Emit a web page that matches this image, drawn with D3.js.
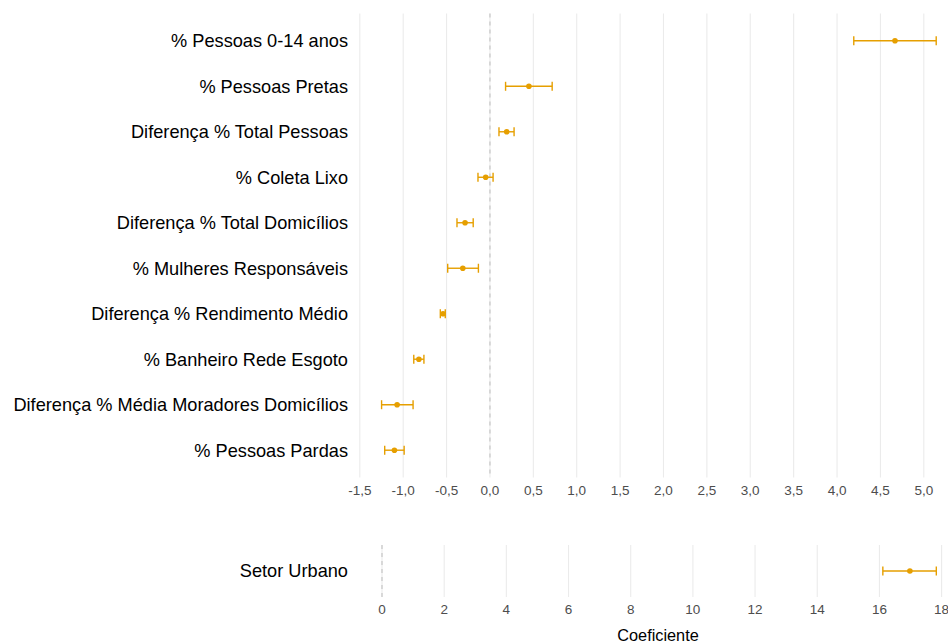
<!DOCTYPE html>
<html>
<head>
<meta charset="utf-8">
<script src="https://cdn.jsdelivr.net/npm/d3@7"></script>
<style>
  body { margin: 0; background: #fff; }
  text { font-family: "Liberation Sans", Arial, Helvetica, sans-serif; }
</style>
</head>
<body>
<div id="chart"></div>
<script>
/* Coefficient plot: two panels, same orange error bars */

const width = 948,
    height = 643;

// top panel data
const labels = ["% Pessoas 0-14 anos", "% Pessoas Pretas", "Diferença % Total Pessoas", "% Coleta Lixo",
  "Diferença % Total Domicílios", "% Mulheres Responsáveis", "Diferença % Rendimento Médio",
  "% Banheiro Rede Esgoto", "Diferença % Média Moradores Domicílios", "% Pessoas Pardas"];
const estimate = [4.668, 0.449, 0.193, -0.049, -0.287, -0.313, -0.541, -0.819, -1.070, -1.101];
const lower    = [4.193, 0.180, 0.104, -0.138, -0.380, -0.487, -0.572, -0.878, -1.249, -1.213];
const upper    = [5.143, 0.717, 0.278,  0.036, -0.193, -0.133, -0.515, -0.761, -0.886, -0.989];
const topTicks = [-1.5, -1, -0.5, 0, 0.5, 1, 1.5, 2, 2.5, 3, 3.5, 4, 4.5, 5];

// bottom panel data
const labels2 = ["Setor Urbano"];
const estimate2 = [16.98];
const lower2 = [16.11];
const upper2 = [17.83];
const bottomTicks = [0, 2, 4, 6, 8, 10, 12, 14, 16, 18];

const orange = "#E69F00";

const svg = d3.select("#chart")
    .append("svg")
    .attr("width", width)
    .attr("height", height);

const fmt = d3.formatLocale({decimal: ",", thousands: ".", grouping: [3], currency: ["", ""], minus: "-"});

function panel(opts) {
  const rows = opts.labels.map((d, i) => ({label: d, est: opts.est[i], lo: opts.lo[i], hi: opts.hi[i]}));

  let x = d3.scaleLinear()
      .domain(opts.xDomain)
      .range(opts.xRange);

  let y = d3.scalePoint()
      .domain(opts.labels)
      .range([opts.top, opts.bottom])
      .padding(0.6);

  const g = svg.append("g");

  // vertical grid
  g.selectAll(".grid")
    .data(opts.ticks)
    .join("line")
      .attr("x1", d => x(d))
      .attr("x2", d => x(d))
      .attr("y1", opts.top)
      .attr("y2", opts.bottom)
      .attr("stroke", "#ebebeb")
      .attr("stroke-width", 1.1);

  // reference line at zero
  g.append("line")
      .attr("x1", x(0))
      .attr("x2", x(0))
      .attr("y1", opts.top)
      .attr("y2", opts.bottom)
      .attr("stroke", "#bdbdbd")
      .attr("stroke-width", 1)
      .attr("stroke-dasharray", "4,4");

  // x tick labels
  g.selectAll(".tick-label")
    .data(opts.ticks)
    .join("text")
      .attr("x", d => x(d))
      .attr("y", opts.bottom + 17)
      .attr("text-anchor", "middle")
      .attr("fill", "#4d4d4d")
      .attr("font-size", 13.5)
      .text(opts.format);

  // y labels
  g.selectAll(".y-label")
    .data(rows)
    .join("text")
      .attr("x", 348)
      .attr("y", d => y(d.label))
      .attr("dy", "0.35em")
      .attr("text-anchor", "end")
      .attr("fill", "#000")
      .attr("font-size", 18.2)
      .text(d => d.label);

  // error bars
  const bars = g.selectAll(".bar")
    .data(rows)
    .join("g")
      .attr("stroke", orange)
      .attr("stroke-width", 1.4);

  bars.append("line")
      .attr("x1", d => x(d.lo))
      .attr("x2", d => x(d.hi))
      .attr("y1", d => y(d.label))
      .attr("y2", d => y(d.label));

  bars.append("line")
      .attr("x1", d => x(d.lo))
      .attr("x2", d => x(d.lo))
      .attr("y1", d => y(d.label) - 4.5)
      .attr("y2", d => y(d.label) + 4.5);

  bars.append("line")
      .attr("x1", d => x(d.hi))
      .attr("x2", d => x(d.hi))
      .attr("y1", d => y(d.label) - 4.5)
      .attr("y2", d => y(d.label) + 4.5);

  g.selectAll(".dot")
    .data(rows)
    .join("circle")
      .attr("cx", d => x(d.est))
      .attr("cy", d => y(d.label))
      .attr("r", 2.8)
      .attr("fill", orange);
}

panel({
  labels: labels, est: estimate, lo: lower, hi: upper,
  ticks: topTicks,
  xDomain: [-1.5, 5], xRange: [359.8, 923.8],
  top: 13.5, bottom: 477.5,
  format: fmt.format(".1f")
});

panel({
  labels: labels2, est: estimate2, lo: lower2, hi: upper2,
  ticks: bottomTicks,
  xDomain: [0, 18], xRange: [382, 941.6],
  top: 545, bottom: 597,
  format: fmt.format("d")
});

svg.append("text")                                        // x-label
    .attr("x", 658)
    .attr("y", 641)
    .attr("text-anchor", "middle")
    .attr("fill", "#000")
    .attr("font-size", 16.3)
    .text("Coeficiente");
</script>
</body>
</html>
